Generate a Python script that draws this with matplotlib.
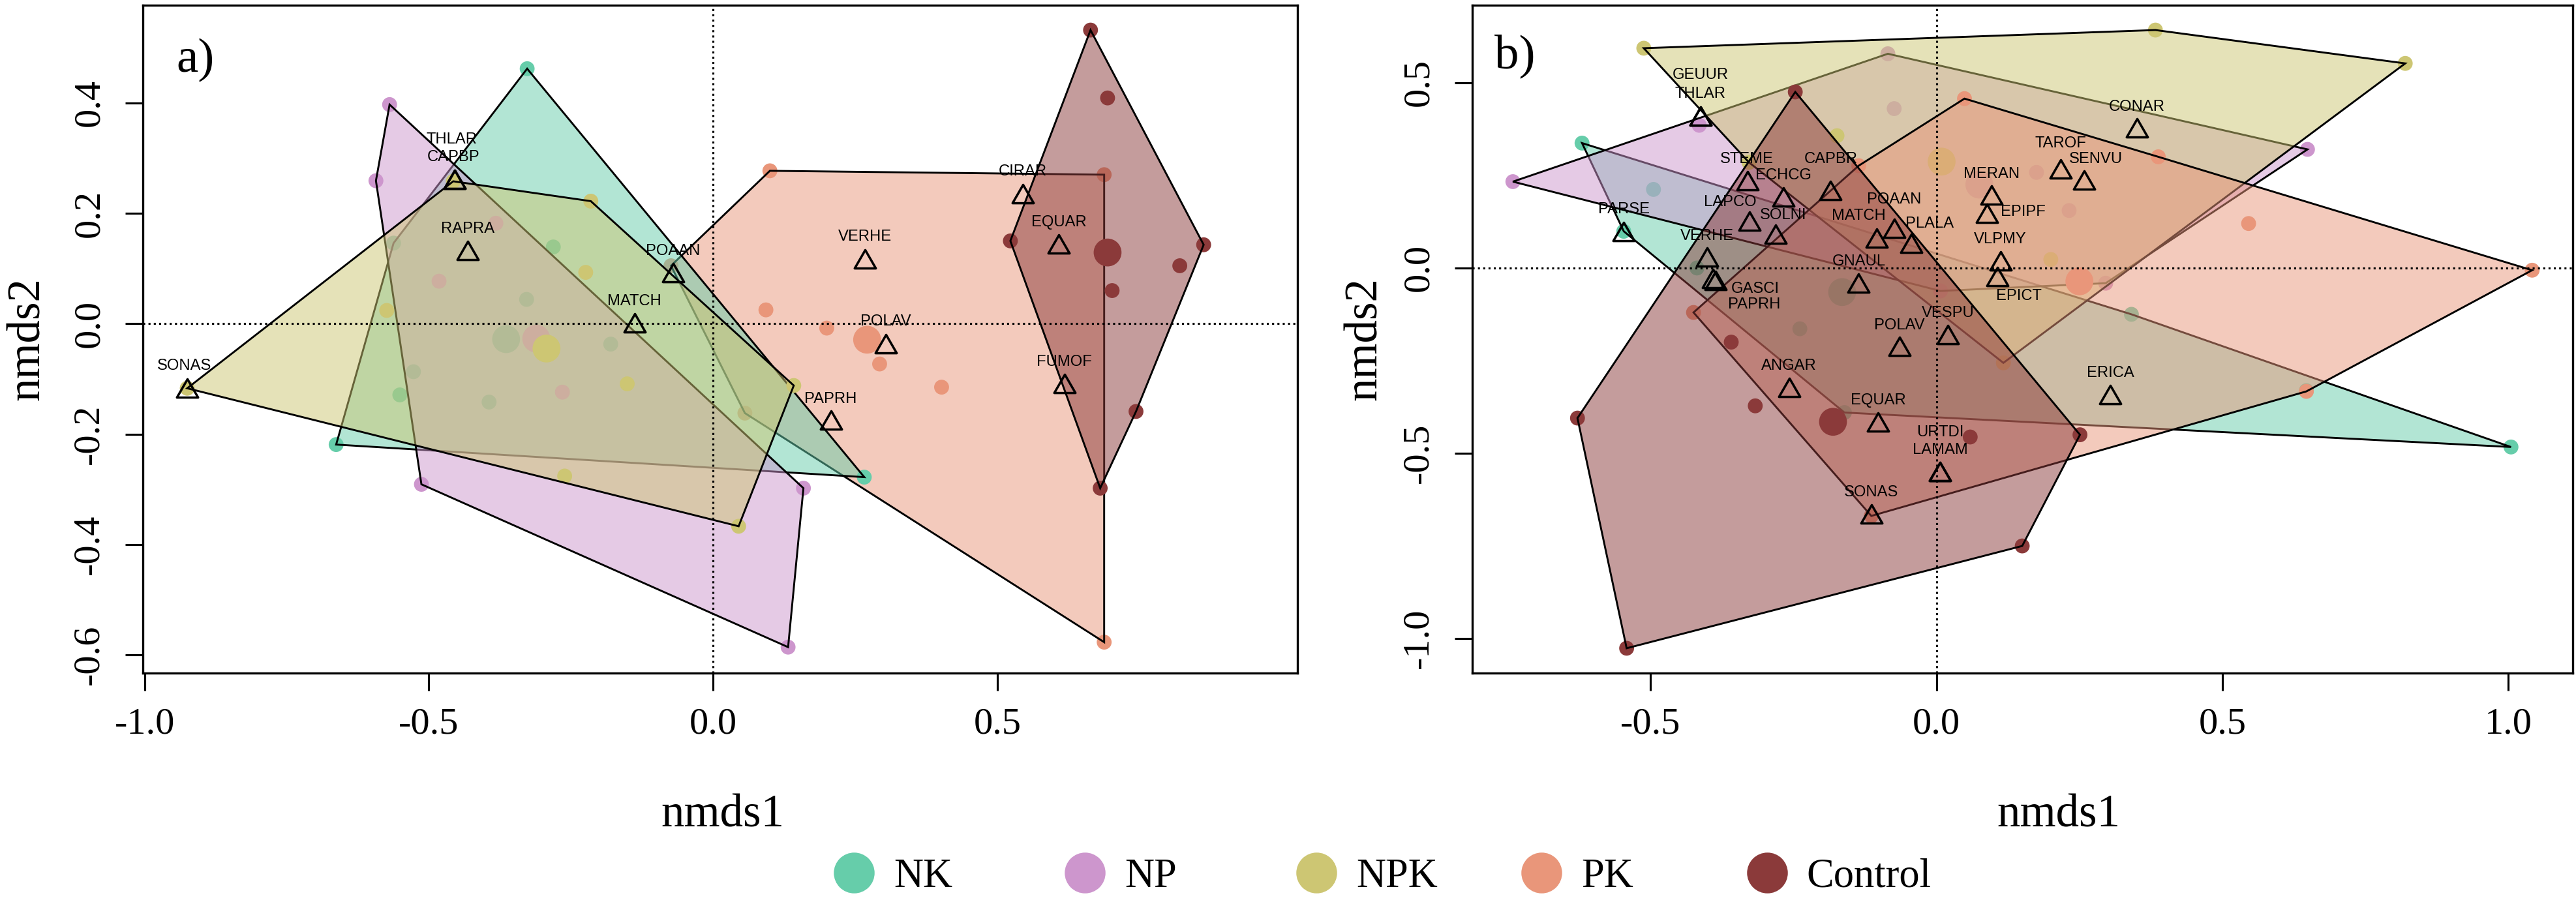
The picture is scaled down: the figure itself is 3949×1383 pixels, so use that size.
import numpy as np
import matplotlib
matplotlib.use('Agg')
import matplotlib.pyplot as plt
from matplotlib.lines import Line2D
from matplotlib.path import Path
from matplotlib.patches import Polygon

plt.rcParams['font.family'] = ['Liberation Serif', 'DejaVu Serif']
plt.rcParams['axes.unicode_minus'] = False

# ---------------- data ----------------
groups = ['NK', 'NP', 'NPK', 'PK', 'Control']
group_colors = ['#66CDAA', '#CD96CD', '#CDC673', '#E9967A', '#8B3A3A']

# Panel a) site scores per treatment
a_NK_x = [-0.663, -0.562, -0.327, 0.266, -0.328, -0.180, -0.527, -0.551, -0.394, -0.281]
a_NK_y = [-0.219, 0.146, 0.462, -0.278, 0.044, -0.037, -0.087, -0.129, -0.142, 0.139]
a_NP_x = [-0.569, -0.593, -0.513, 0.132, 0.159, -0.482, -0.382, -0.265]
a_NP_y = [0.397, 0.259, -0.291, -0.586, -0.298, 0.077, 0.182, -0.124]
a_NPK_x = [-0.925, -0.457, -0.215, 0.142, 0.045, -0.574, -0.224, -0.151, -0.261]
a_NPK_y = [-0.117, 0.258, 0.222, -0.112, -0.367, 0.024, 0.093, -0.109, -0.276]
a_PK_x = [0.100, 0.688, 0.688, 0.056, -0.074, 0.093, 0.200, 0.293, 0.402]
a_PK_y = [0.277, 0.270, -0.577, -0.162, 0.105, 0.025, -0.008, -0.073, -0.115]
a_Ctrl_x = [0.664, 0.863, 0.681, 0.523, 0.694, 0.821, 0.702, 0.744]
a_Ctrl_y = [0.532, 0.143, -0.298, 0.150, 0.409, 0.105, 0.060, -0.159]
# group centroids (NK, NP, NPK, PK, Control)
a_cent_x = [-0.364, -0.311, -0.293, 0.271, 0.694]
a_cent_y = [-0.028, -0.027, -0.045, -0.029, 0.129]

# Panel a) species scores
a_species = ['THLAR', 'CAPBP', 'RAPRA', 'POAAN', 'MATCH', 'SONAS',
             'VERHE', 'POLAV', 'PAPRH', 'CIRAR', 'EQUAR', 'FUMOF']
a_sp_x = [-0.455, -0.455, -0.432, -0.070, -0.138, -0.925, 0.267, 0.304, 0.207, 0.545, 0.608, 0.618]
a_sp_y = [0.262, 0.262, 0.133, 0.092, 0.002, -0.117, 0.117, -0.036, -0.175, 0.235, 0.144, -0.108]
a_lab_x = [-0.460, -0.457, -0.432, -0.070, -0.138, -0.930, 0.267, 0.304, 0.207, 0.545, 0.608, 0.618]
a_lab_y = [0.334, 0.302, 0.172, 0.131, 0.041, -0.077, 0.158, 0.004, -0.137, 0.276, 0.184, -0.069]

# Panel b) site scores per treatment
b_NK_x = [-0.620, 1.005, -0.161, -0.547, -0.495, -0.419, 0.341, 0.647, -0.239]
b_NK_y = [0.337, -0.483, -0.390, 0.099, 0.212, 0.000, -0.125, -0.331, -0.164]
b_NP_x = [-0.741, -0.085, 0.649, 0.296, 0.007, -0.415, -0.074, 0.175, 0.232]
b_NP_y = [0.233, 0.578, 0.320, -0.041, -0.062, 0.385, 0.430, 0.258, 0.155]
b_NPK_x = [-0.512, 0.383, 0.820, 0.117, -0.328, -0.174, 0.200]
b_NPK_y = [0.593, 0.642, 0.552, -0.256, 0.285, 0.357, 0.023]
b_PK_x = [-0.425, -0.114, 0.647, 1.042, 0.388, 0.049, -0.136, 0.546]
b_PK_y = [-0.120, -0.669, -0.333, -0.006, 0.300, 0.457, 0.276, 0.120]
b_Ctrl_x = [-0.247, 0.251, 0.150, -0.542, -0.628, -0.359, -0.317, 0.059]
b_Ctrl_y = [0.475, -0.450, -0.750, -1.026, -0.405, -0.200, -0.372, -0.456]
b_cent_x = [-0.165, 0.075, 0.009, 0.250, -0.181]
b_cent_y = [-0.065, 0.225, 0.287, -0.036, -0.415]

# Panel b) species scores
b_species = ['GEUUR', 'THLAR', 'STEME', 'ECHCG', 'CAPBR', 'LAPCO', 'SOLNI', 'PARSE',
             'VERHE', 'GASCI', 'PAPRH', 'GNAUL', 'POAAN', 'MATCH', 'PLALA', 'POLAV',
             'VESPU', 'ANGAR', 'EQUAR', 'URTDI', 'LAMAM', 'SONAS', 'CONAR', 'TAROF',
             'SENVU', 'MERAN', 'EPIPF', 'VLPMY', 'EPICT', 'ERICA']
b_sp_x = [-0.413, -0.413, -0.330, -0.268, -0.185, -0.327, -0.281, -0.547,
          -0.401, -0.391, -0.386, -0.136, -0.074, -0.105, -0.044, -0.065,
          0.020, -0.258, -0.102, 0.006, 0.006, -0.114, 0.351, 0.217,
          0.258, 0.096, 0.088, 0.112, 0.107, 0.304]
b_sp_y = [0.409, 0.409, 0.236, 0.192, 0.209, 0.126, 0.091, 0.099,
          0.029, -0.029, -0.033, -0.041, 0.108, 0.081, 0.067, -0.212,
          -0.180, -0.323, -0.415, -0.550, -0.550, -0.663, 0.378, 0.267,
          0.238, 0.197, 0.148, 0.020, -0.023, -0.341]
b_lab_x = [-0.413, -0.413, -0.332, -0.268, -0.185, -0.361, -0.268, -0.547,
           -0.401, -0.317, -0.319, -0.136, -0.074, -0.136, -0.012, -0.065,
           0.020, -0.258, -0.102, 0.007, 0.007, -0.114, 0.351, 0.217,
           0.279, 0.096, 0.151, 0.111, 0.144, 0.304]
b_lab_y = [0.521, 0.469, 0.293, 0.250, 0.294, 0.178, 0.142, 0.159,
           0.086, -0.056, -0.099, 0.017, 0.185, 0.140, 0.120, -0.155,
           -0.122, -0.265, -0.357, -0.443, -0.492, -0.605, 0.435, 0.336,
           0.294, 0.253, 0.151, 0.078, -0.076, -0.283]

a_xticks = [-1.0, -0.5, 0.0, 0.5]
a_yticks = [-0.6, -0.4, -0.2, 0.0, 0.2, 0.4]
b_xticks = [-0.5, 0.0, 0.5, 1.0]
b_yticks = [-1.0, -0.5, 0.0, 0.5]


def convex_hull(xs, ys):
    pts = sorted(set(zip(xs, ys)))

    def cross(o, a, b):
        return (a[0] - o[0]) * (b[1] - o[1]) - (a[1] - o[1]) * (b[0] - o[0])

    lower = []
    for p in pts:
        while len(lower) >= 2 and cross(lower[-2], lower[-1], p) <= 0:
            lower.pop()
        lower.append(p)
    upper = []
    for p in reversed(pts):
        while len(upper) >= 2 and cross(upper[-2], upper[-1], p) <= 0:
            upper.pop()
        upper.append(p)
    return np.array(lower[:-1] + upper[:-1])


W, H = 3949, 1383
DPI = 300
fig = plt.figure(figsize=(W / DPI, H / DPI), dpi=DPI)

top_px, bot_px = 8, 1032
ax_a = fig.add_axes([219 / W, 1 - bot_px / H, (1989 - 219) / W, (bot_px - top_px) / H])
ax_b = fig.add_axes([2257 / W, 1 - bot_px / H, (3944 - 2257) / W, (bot_px - top_px) / H])

tri = Path([(0, 0.5), (-0.577, -0.5), (0.577, -0.5), (0, 0.5)],
           [Path.MOVETO, Path.LINETO, Path.LINETO, Path.CLOSEPOLY])


def draw_panel(ax, site_sets, cents_x, cents_y, order, sp, spx, spy, lbx, lby,
               xlim, ylim, xticks, yticks, letter, letter_pos):
    z = 1
    for gi in order:
        gx, gy = site_sets[gi]
        col = group_colors[gi]
        ax.scatter(gx, gy, s=30, color=col, edgecolors='none', zorder=z)
        ax.scatter([cents_x[gi]], [cents_y[gi]], s=105, color=col,
                   edgecolors='none', zorder=z)
        hull = convex_hull(gx, gy)
        rgb = matplotlib.colors.to_rgb(col)
        poly = Polygon(hull, closed=True, facecolor=(*rgb, 0.5),
                       edgecolor='black', linewidth=0.7, zorder=z + 0.5,
                       joinstyle='miter')
        ax.add_patch(poly)
        z += 1
    ax.axhline(0, color='black', linewidth=0.75, linestyle=(0, (1, 1.6)), zorder=z)
    ax.axvline(0, color='black', linewidth=0.75, linestyle=(0, (1, 1.6)), zorder=z)
    ax.plot(spx, spy, linestyle='none', marker=tri, ms=7.8, mfc='none',
            mec='black', mew=0.85, zorder=z + 1)
    for name, lx, ly in zip(sp, lbx, lby):
        ax.text(lx, ly, name, ha='center', va='center', fontsize=5.7,
                family=['Liberation Sans', 'DejaVu Sans'], zorder=z + 2)
    ax.set_xlim(*xlim)
    ax.set_ylim(*ylim)
    ax.set_xticks(xticks)
    ax.set_yticks(yticks)
    ax.set_xticklabels(['%.1f' % v for v in xticks])
    ax.set_yticklabels(['%.1f' % v for v in yticks])
    ax.tick_params(direction='out', length=6.5, width=0.75, labelsize=14)
    ax.tick_params(axis='x', pad=6)
    ax.tick_params(axis='y', pad=7)
    for lab in ax.get_yticklabels():
        lab.set_rotation(90)
        lab.set_va('center')
        lab.set_ha('right')
    for sp_ in ax.spines.values():
        sp_.set_linewidth(0.8)
    ax.text(letter_pos[0], letter_pos[1], letter, transform=ax.transAxes,
            fontsize=18, ha='left', va='center')


sites_a = [(a_NK_x, a_NK_y), (a_NP_x, a_NP_y), (a_NPK_x, a_NPK_y),
           (a_PK_x, a_PK_y), (a_Ctrl_x, a_Ctrl_y)]
sites_b = [(b_NK_x, b_NK_y), (b_NP_x, b_NP_y), (b_NPK_x, b_NPK_y),
           (b_PK_x, b_PK_y), (b_Ctrl_x, b_Ctrl_y)]

draw_panel(ax_a, sites_a, a_cent_x, a_cent_y, [3, 0, 1, 2, 4],
           a_species, a_sp_x, a_sp_y, a_lab_x, a_lab_y,
           (-1.003, 1.028), (-0.633, 0.577), a_xticks, a_yticks, 'a)', (0.029, 0.918))
draw_panel(ax_b, sites_b, b_cent_x, b_cent_y, [0, 1, 2, 3, 4],
           b_species, b_sp_x, b_sp_y, b_lab_x, b_lab_y,
           (-0.812, 1.113), (-1.093, 0.709), b_xticks, b_yticks, 'b)', (0.020, 0.924))

# axis titles
fig.text(1108 / W, 1 - 1250 / H, 'nmds1', ha='center', va='center', fontsize=17)
fig.text(3156 / W, 1 - 1250 / H, 'nmds1', ha='center', va='center', fontsize=17)
fig.text(42 / W, 1 - 520 / H, 'nmds2', ha='center', va='center', fontsize=17, rotation=90)
fig.text(2092 / W, 1 - 520 / H, 'nmds2', ha='center', va='center', fontsize=17, rotation=90)

# legend
leg_x_px = [1309, 1663, 2018, 2363, 2709]
leg_y = 1 - 1345 / H
for name, col, xp in zip(groups, group_colors, leg_x_px):
    h = Line2D([], [], linestyle='none', marker='o', markersize=15,
               markerfacecolor=col, markeredgecolor='none')
    fig.legend(handles=[h], labels=[name], loc='center left',
               bbox_to_anchor=((xp - 31) / W, leg_y), frameon=False,
               fontsize=15, handlelength=1.0, handletextpad=0.47,
               borderpad=0, borderaxespad=0)

fig.savefig('out.png', dpi=DPI)
